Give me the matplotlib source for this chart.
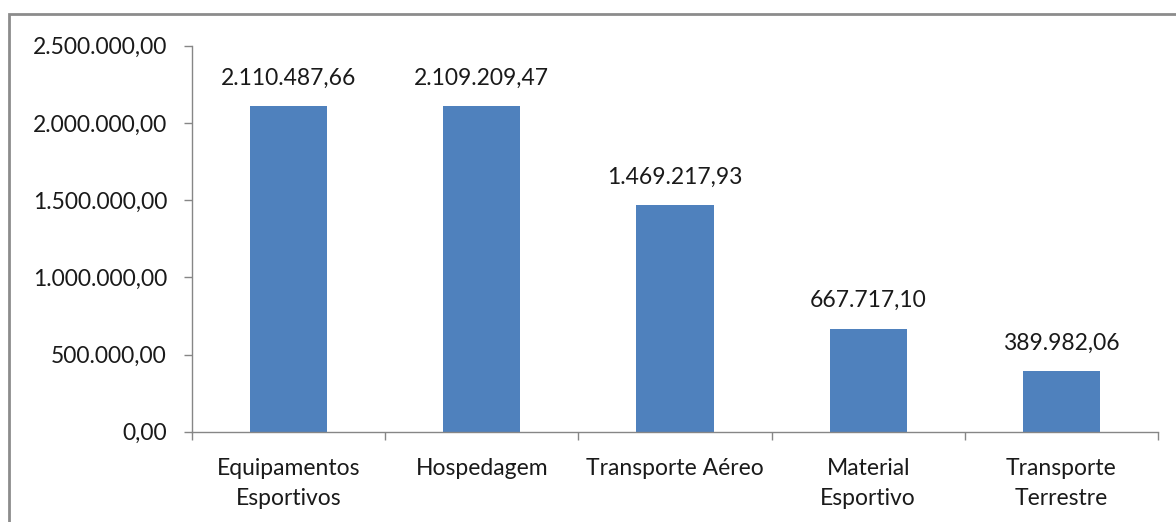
import matplotlib
matplotlib.use("Agg")
import matplotlib.pyplot as plt
from matplotlib.patches import Rectangle
from matplotlib.ticker import FuncFormatter

categories = ["Equipamentos\nEsportivos", "Hospedagem", "Transporte Aéreo",
              "Material\nEsportivo", "Transporte\nTerrestre"]
values = [2110487.66, 2109209.47, 1469217.93, 667717.10, 389982.06]
y_ticks = [0, 500000, 1000000, 1500000, 2000000, 2500000]

BAR_COLOR = "#4F81BD"
TEXT_COLOR = "#1a1a1a"
FONT_SIZE = 16.5
plt.rcParams["font.family"] = ["Lato", "DejaVu Sans"]


def br_format(v, _pos=None):
    s = f"{v:,.2f}"
    return s.replace(",", "X").replace(".", ",").replace("X", ".")


W, H = 1176, 522
fig = plt.figure(figsize=(W / 100, H / 100), dpi=100)
fig.patch.set_facecolor("white")

# outer chart-area frame
fig.patches.append(Rectangle((8.5 / W, -0.1), 1.2, 1 - 14 / H + 0.1,
                             transform=fig.transFigure, fill=False,
                             edgecolor="#8c8c8c", linewidth=2))

left, right = 192 / W, 1158 / W
bottom, top = 1 - 431.7 / H, 1 - 45.7 / H
ax = fig.add_axes([left, bottom, right - left, top - bottom])

x = range(len(categories))
bars = ax.bar(x, values, width=0.4, color=BAR_COLOR, zorder=2)

ax.set_xlim(-0.5, len(categories) - 0.5)
ax.set_ylim(0, 2500000)
ax.set_yticks(y_ticks)
ax.yaxis.set_major_formatter(FuncFormatter(br_format))

ax.set_xticks([i + 0.5 for i in range(-1, len(categories))], minor=False)
ax.set_xticklabels([])
ax.set_xticks(list(x), minor=True)
ax.set_xticklabels(categories, minor=True, fontsize=FONT_SIZE,
                   color=TEXT_COLOR, linespacing=1.55)
ax.tick_params(axis="x", which="minor", length=0, pad=19)
ax.tick_params(axis="x", which="major", length=6, direction="out",
               color="#868686", width=1)
ax.tick_params(axis="y", length=6, direction="out", color="#868686",
               width=1, labelsize=FONT_SIZE, labelcolor=TEXT_COLOR, pad=12)

for s in ("top", "right"):
    ax.spines[s].set_visible(False)
for s in ("left", "bottom"):
    ax.spines[s].set_color("#868686")
    ax.spines[s].set_linewidth(1)

for b, v in zip(bars, values):
    ax.annotate(br_format(v), (b.get_x() + b.get_width() / 2, v),
                xytext=(0, 12.5), textcoords="offset points",
                ha="center", va="bottom", fontsize=FONT_SIZE, color=TEXT_COLOR)

fig.savefig("out.png", dpi=100)
